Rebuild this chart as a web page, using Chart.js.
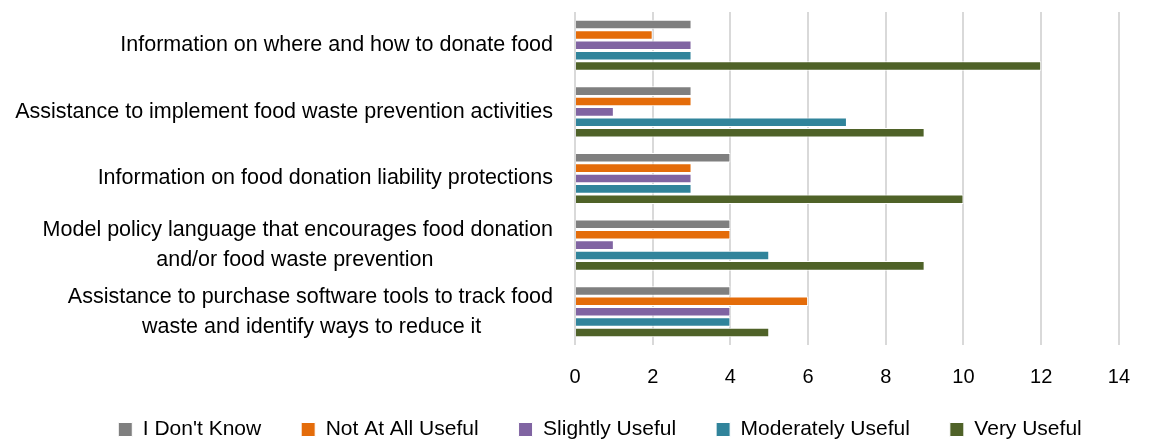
<!DOCTYPE html>
<html>
<head>
<meta charset="utf-8">
<script src="https://cdn.jsdelivr.net/npm/chart.js@4/dist/chart.umd.min.js"></script>
<style>
  html, body { margin: 0; padding: 0; background: #fff; }
  #wrap { width: 1150px; height: 442px; }
</style>
</head>
<body>
<div id="wrap"><canvas id="chart" width="1150" height="442"></canvas></div>
<script>
// categories (top to bottom)
const categories = [
  ['Information on where and how to donate food'],
  ['Assistance to implement food waste prevention activities'],
  ['Information on food donation liability protections'],
  ['Model policy language that encourages food donation', 'and/or food waste prevention'],
  ['Assistance to purchase software tools to track food', 'waste and identify ways to reduce it']
];

const seriesNames = ["I Don't Know", 'Not At All Useful', 'Slightly Useful', 'Moderately Useful', 'Very Useful'];
const seriesColors = ['#7F7F7F', '#E46C0A', '#8064A2', '#31849B', '#4F6228'];

const dontKnow   = [3, 3, 4, 4, 4];
const notUseful  = [2, 3, 3, 4, 6];
const slightly   = [3, 1, 3, 1, 4];
const moderately = [3, 7, 3, 5, 4];
const veryUseful = [12, 9, 10, 9, 5];

const xTicks = [0, 2, 4, 6, 8, 10, 12, 14];

const font = "'Liberation Sans', Arial, sans-serif";
const labelSize = 21.5;

// center the lines of a two-line label under each other (labels are right aligned)
const measure = document.createElement('canvas').getContext('2d');
measure.font = labelSize + 'px ' + font;
const spaceW = measure.measureText(' ').width;
const yLabels = categories.map(lines => {
  if (lines.length < 2) return lines[0];
  const widest = Math.max(...lines.map(l => measure.measureText(l).width));
  return lines.map(l => {
    const n = Math.round((widest - measure.measureText(l).width) / 2 / spaceW);
    return l + ' '.repeat(n);
  });
});

const allValues = [dontKnow, notUseful, slightly, moderately, veryUseful];
const datasets = seriesNames.map((name, i) => ({
  label: name,
  data: allValues[i],
  backgroundColor: seriesColors[i],
  borderColor: '#ffffff',
  borderWidth: 1,
  categoryPercentage: 0.78,
  barPercentage: 0.92
}));

// legend sits a bit right of centre and closer to the axis in the original
const moveLegend = {
  id: 'moveLegend',
  afterLayout(chart) {
    const lg = chart.legend;
    lg.top -= 12; lg.bottom -= 12;
    lg.left += 35; lg.right += 35;
  }
};

new Chart(document.getElementById('chart'), {
  type: 'bar',
  data: { labels: yLabels, datasets: datasets },
  plugins: [moveLegend],
  options: {
    indexAxis: 'y',
    responsive: false,
    animation: false,
    layout: { padding: { top: 12, right: 20, left: 0, bottom: -20 } },
    scales: {
      x: {
        min: 0,
        max: 14,
        afterBuildTicks: axis => { axis.ticks = xTicks.map(v => ({ value: v })); },
        afterFit: s => { s.height = 46; },
        grid: { color: '#d9d9d9', lineWidth: 2, drawTicks: false },
        border: { display: false },
        ticks: { color: '#000', font: { family: font, size: 20 }, padding: 20 }
      },
      y: {
        afterFit: s => { s.width = 575; s.paddingTop = 0; s.paddingBottom = 0; },
        grid: { display: false, drawTicks: false },
        border: { display: false },
        ticks: {
          color: '#000',
          autoSkip: false,
          font: { family: font, size: labelSize, lineHeight: 1.4 },
          padding: 22
        }
      }
    },
    plugins: {
      legend: {
        position: 'bottom',
        labels: {
          color: '#000',
          font: { family: font, size: 21 },
          boxWidth: 14,
          boxHeight: 14,
          padding: 40
        }
      },
      tooltip: { enabled: false }
    }
  }
});
</script>
</body>
</html>
